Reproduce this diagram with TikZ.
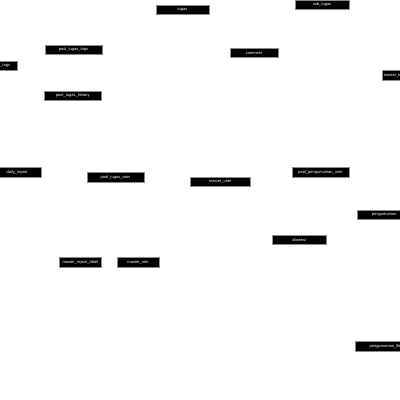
\documentclass[tikz,border=0pt]{standalone}
\usepackage{fontspec}
\setmainfont{Liberation Sans}
\begin{document}
\begin{tikzpicture}[x=1pt,y=-1pt,
  tbl/.style={fill=black,draw=black!45,line width=0.4pt,text=white,
    font=\fontsize{4}{5}\selectfont,inner sep=0pt,minimum height=9.3pt}]
\useasboundingbox (0,0) rectangle (400,400);
\clip (0,0) rectangle (400,400);
\node[tbl,minimum width=53.6pt] (tugas) at (182.5,9.6) {tugas};
\node[tbl,minimum width=54pt] (subtugas) at (322,4.7) {sub\_tugas};
\node[tbl,minimum width=57.6pt] (pooltags) at (73.5,49.8) {pool\_tugas\_tags};
\node[tbl,minimum width=35.4pt] (mtags) at (-1,65.7) {master\_tags};
\node[tbl,minimum width=57pt] (poolhist) at (72.8,95.8) {pool\_tugas\_history};
\node[tbl,minimum width=48pt] (comment) at (254,53) {comment};
\node[tbl,minimum width=28.6pt] (mtugas) at (396,75.3) {master\_tugas};
\node[tbl,minimum width=47.4pt] (daily) at (17,172.3) {daily\_report};
\node[tbl,minimum width=57.6pt] (pooluser) at (115.5,177.3) {pool\_tugas\_user};
\node[tbl,minimum width=60.3pt] (muser) at (220.2,182) {master\_user};
\node[tbl,minimum width=57.6pt] (poolpeng) at (320.5,172.3) {pool\_pengumuman\_user};
\node[tbl,minimum width=54.6pt] (peng) at (384.3,214.5) {pengumuman};
\node[tbl,minimum width=54.3pt] (absensi) at (299.2,240) {absensi};
\node[tbl,minimum width=42pt] (mlabel) at (80.3,262.3) {master\_report\_label};
\node[tbl,minimum width=41.4pt] (mrole) at (138,262.3) {master\_role};
\node[tbl,minimum width=61pt] (pengfile) at (385.5,346.2) {pengumuman\_file};
\end{tikzpicture}
\end{document}
